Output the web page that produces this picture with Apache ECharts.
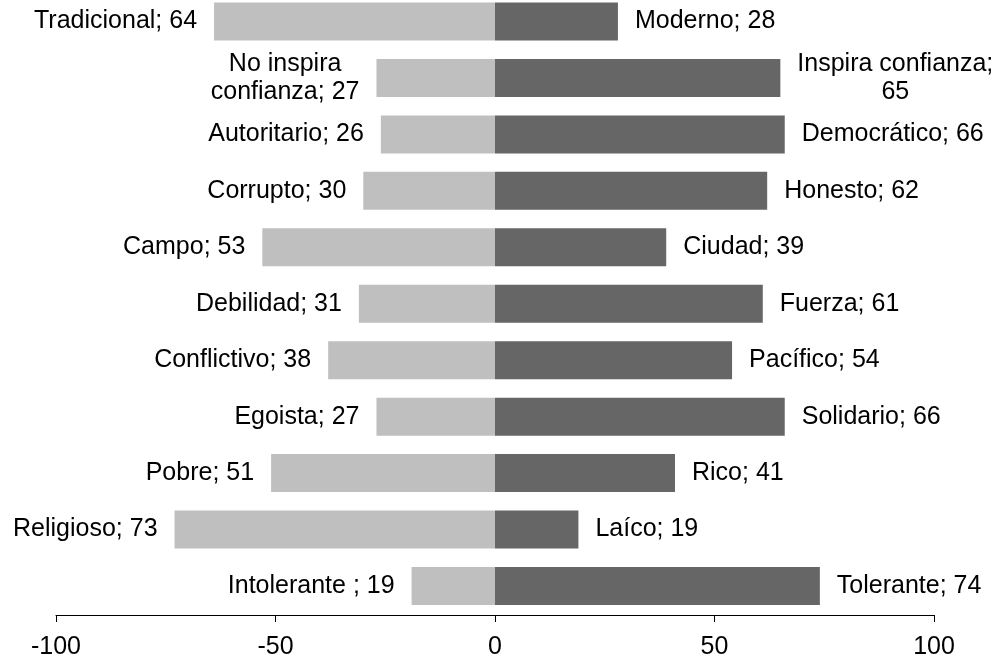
<!DOCTYPE html>
<html>
<head>
<meta charset="utf-8">
<script src="https://cdn.jsdelivr.net/npm/echarts@6/dist/echarts.min.js"></script>
<style>
html,body{margin:0;padding:0;background:#fff;}
#c{width:998px;height:660px;}
</style>
</head>
<body>
<div id="c"></div>
<script>
// Category keys (top to bottom)
const categories = ['Tradicional/Moderno','Confianza','Autoritario/Democrático','Corrupto/Honesto','Campo/Ciudad','Debilidad/Fuerza','Conflictivo/Pacífico','Egoista/Solidario','Pobre/Rico','Religioso/Laíco','Intolerante/Tolerante'];
// Left (negative side) names and values
const leftNames = ['Tradicional','No inspira\nconfianza','Autoritario','Corrupto','Campo','Debilidad','Conflictivo','Egoista','Pobre','Religioso','Intolerante '];
const leftValues = [64, 27, 26, 30, 53, 31, 38, 27, 51, 73, 19];
// Right (positive side) names and values
const rightNames = ['Moderno','Inspira confianza','Democrático','Honesto','Ciudad','Fuerza','Pacífico','Solidario','Rico','Laíco','Tolerante'];
const rightValues = [28, 65, 66, 62, 39, 61, 54, 66, 41, 19, 74];
// Labels whose value goes on a new line after the semicolon
const breakAfterSemicolon = ['Inspira confianza'];
// Axis ticks
const xTicks = [-100, -50, 0, 50, 100];

function makeLabel(name, value) {
  const sep = breakAfterSemicolon.indexOf(name) >= 0 ? ';\n' : '; ';
  const text = name + sep + value;
  return text.split('\n').map(function (l) { return '{t|' + l + '}'; }).join('\n');
}

const FONT = '"Liberation Sans", Arial, Helvetica, sans-serif';
const chart = echarts.init(document.getElementById('c'), null, { renderer: 'canvas' });

const richStyle = { t: { fontFamily: FONT, fontSize: 25, lineHeight: 28, color: '#000', align: 'center' } };

chart.setOption({
  animation: false,
  backgroundColor: '#ffffff',
  grid: { left: 56, right: 64, top: 21.5, height: 564.5, containLabel: false },
  xAxis: {
    type: 'value',
    min: -100, max: 100, interval: 50,
    offset: 29,
    splitLine: { show: false },
    axisLine: { show: true, lineStyle: { color: '#000', width: 1 } },
    axisTick: { show: true, length: 7, lineStyle: { color: '#000' } },
    axisLabel: {
      fontFamily: FONT, fontSize: 25, color: '#000', margin: 20,
      formatter: function (v) { return xTicks.indexOf(v) >= 0 ? String(v) : ''; }
    }
  },
  yAxis: {
    type: 'category',
    data: categories,
    inverse: true,
    boundaryGap: false,
    axisLine: { show: false },
    axisTick: { show: false },
    axisLabel: { show: false },
    splitLine: { show: false }
  },
  series: [
    {
      type: 'bar',
      name: 'left',
      data: leftValues.map(function (v) { return -v; }),
      barWidth: 38,
      barGap: '-100%',
      itemStyle: { color: '#bfbfbf' },
      label: {
        show: true, position: 'left', distance: 17,
        formatter: function (p) { return makeLabel(leftNames[p.dataIndex], leftValues[p.dataIndex]); },
        rich: richStyle
      }
    },
    {
      type: 'bar',
      name: 'right',
      data: rightValues,
      barWidth: 38,
      barGap: '-100%',
      itemStyle: { color: '#666666' },
      label: {
        show: true, position: 'right', distance: 17,
        formatter: function (p) { return makeLabel(rightNames[p.dataIndex], rightValues[p.dataIndex]); },
        rich: richStyle
      }
    }
  ]
});
</script>
</body>
</html>
